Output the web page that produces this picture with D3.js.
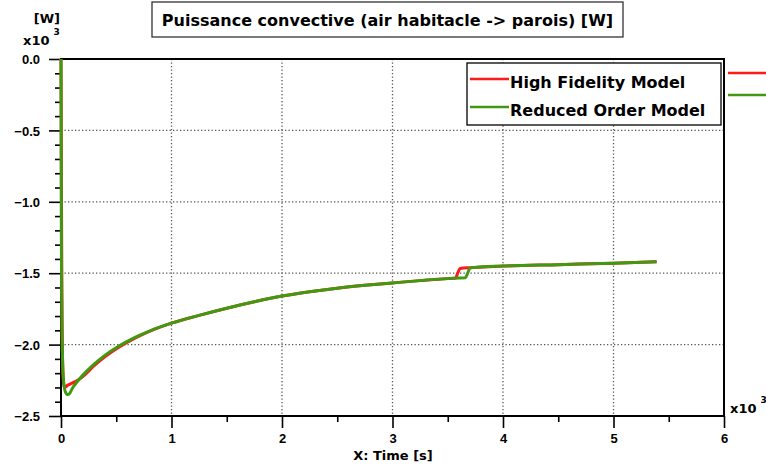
<!DOCTYPE html>
<html><head><meta charset="utf-8">
<script src="https://cdn.jsdelivr.net/npm/d3@7"></script>
<style>
html,body{margin:0;padding:0;background:#fff;}
svg{display:block;font-family:"DejaVu Sans",Verdana,sans-serif;font-weight:bold;}
</style></head>
<body><svg id="c" width="766" height="467"></svg>
<script>
const title = "Puissance convective (air habitacle -> parois) [W]";
const xLabel = "X: Time [s]";
const seriesNames = ["High Fidelity Model", "Reduced Order Model"];
const seriesColors = ["#ff1a1a", "#3f9a12"];
const xTicks = [0, 1, 2, 3, 4, 5, 6];
const yTicks = [0.0, -0.5, -1.0, -1.5, -2.0, -2.5];

// time in x10^3 s, power in x10^3 W
const hfmTime = [0, 0.002, 0.004, 0.007, 0.010, 0.014, 0.020, 0.028, 0.036, 0.045, 0.060, 0.10, 0.15, 0.20, 0.30, 0.40, 0.52, 0.67, 0.80, 1.0, 1.25, 1.5, 1.75, 2.0, 2.25, 2.5, 2.75, 3.0, 3.25, 3.5, 3.57, 3.59, 3.61, 3.64, 3.70, 4.0, 4.5, 5.0, 5.39];
const hfmPower = [0, -0.35, -0.9, -1.45, -1.85, -2.1, -2.24, -2.29, -2.30, -2.295, -2.285, -2.27, -2.25, -2.222, -2.148, -2.084, -2.02, -1.955, -1.908, -1.85, -1.795, -1.745, -1.70, -1.66, -1.63, -1.605, -1.585, -1.568, -1.552, -1.538, -1.534, -1.50, -1.468, -1.463, -1.461, -1.45, -1.44, -1.43, -1.42];
const romTime = [0, 0.001, 0.003, 0.006, 0.010, 0.016, 0.025, 0.035, 0.045, 0.055, 0.065, 0.08, 0.10, 0.15, 0.20, 0.30, 0.40, 0.52, 0.67, 0.80, 1.0, 1.25, 1.5, 1.75, 2.0, 2.25, 2.5, 2.75, 3.0, 3.25, 3.5, 3.6, 3.66, 3.68, 3.70, 3.72, 4.0, 4.5, 5.0, 5.39];
const romPower = [0, -0.5, -1.2, -1.65, -1.95, -2.15, -2.27, -2.32, -2.34, -2.35, -2.35, -2.34, -2.31, -2.257, -2.212, -2.137, -2.074, -2.012, -1.949, -1.905, -1.85, -1.795, -1.745, -1.70, -1.66, -1.63, -1.605, -1.585, -1.568, -1.552, -1.538, -1.534, -1.532, -1.50, -1.465, -1.461, -1.45, -1.44, -1.43, -1.42];

const svg = d3.select("#c");
const L = 61, T = 59, R = 724, B = 416;
const x = d3.scaleLinear().domain([0, 6]).range([L, R]);
const y = d3.scaleLinear().domain([-2.5, 0]).range([B, T]);

// grid
const grid = svg.append("g").attr("stroke", "#555").attr("stroke-width", 1.3).attr("stroke-dasharray", "1.3,2.2");
xTicks.slice(1, -1).forEach(t => grid.append("line").attr("x1", x(t)).attr("x2", x(t)).attr("y1", T).attr("y2", B));
yTicks.slice(1, -1).forEach(t => grid.append("line").attr("x1", L).attr("x2", R).attr("y1", y(t)).attr("y2", y(t)));

// axes
const xAxis = d3.axisBottom(x).tickValues(d3.range(0, 6.01, 0.5)).tickSize(6).tickFormat("");
const gx = svg.append("g").attr("transform", `translate(0,${B})`).call(xAxis);
gx.selectAll(".tick line").attr("stroke", "#000").attr("stroke-width", 1.6)
  .attr("y2", d => (Math.abs(d - Math.round(d)) < 1e-6 ? 12 : 6));
gx.select(".domain").remove();
gx.selectAll(".tick").append("text").text(d => (Math.abs(d - Math.round(d)) < 1e-6 ? d3.format("d")(d) : ""))
  .attr("y", 27).attr("fill", "#000").attr("font-size", 13).attr("text-anchor", "middle");

const yAxis = d3.axisLeft(y).tickValues(d3.range(0, 25.5, 1).map(i => -i / 10)).tickSize(6).tickFormat("");
const gy = svg.append("g").attr("transform", `translate(${L},0)`).call(yAxis);
gy.selectAll(".tick line").attr("stroke", "#000").attr("stroke-width", 1.6)
  .attr("x2", (d, i) => (i % 5 === 0 ? -12 : -6));
gy.select(".domain").remove();
gy.selectAll(".tick").append("text").text((d, i) => (i % 5 === 0 ? d3.format(".1f")(d) : ""))
  .attr("x", -21).attr("dy", "0.36em").attr("fill", "#000").attr("font-size", 13).attr("text-anchor", "end");

// frame
svg.append("rect").attr("x", L).attr("y", T).attr("width", R - L).attr("height", B - T)
  .attr("fill", "none").attr("stroke", "#000").attr("stroke-width", 2);

// curves
const line = d3.line().x(d => x(d[0])).y(d => y(d[1])).curve(d3.curveMonotoneX);
const hfm = hfmTime.map((t, i) => [t, hfmPower[i]]);
const rom = romTime.map((t, i) => [t, romPower[i]]);
svg.append("path").datum(hfm).attr("d", line).attr("fill", "none").attr("stroke", seriesColors[0]).attr("stroke-width", 3).attr("stroke-linejoin", "round");
svg.append("path").datum(rom).attr("d", line).attr("fill", "none").attr("stroke", seriesColors[1]).attr("stroke-width", 3).attr("stroke-linejoin", "round");

// legend inside
svg.append("rect").attr("x", 467).attr("y", 63).attr("width", 254).attr("height", 62)
  .attr("fill", "#fff").attr("stroke", "#000").attr("stroke-width", 1.3);
seriesNames.forEach((n, i) => {
  const ly = 79 + i * 28;
  svg.append("line").attr("x1", 470).attr("x2", 509).attr("y1", ly).attr("y2", ly)
    .attr("stroke", seriesColors[i]).attr("stroke-width", 2.4);
  svg.append("text").attr("x", 510).attr("y", ly + 9).attr("font-size", 16).text(n);
  svg.append("line").attr("x1", 728).attr("x2", 766).attr("y1", 73 + i * 22).attr("y2", 73 + i * 22)
    .attr("stroke", seriesColors[i]).attr("stroke-width", 2.4);
});

// title
svg.append("rect").attr("x", 152).attr("y", 2).attr("width", 471).attr("height", 35)
  .attr("fill", "#fff").attr("stroke", "#333").attr("stroke-width", 1.3);
svg.append("text").attr("x", 387.5).attr("y", 25.5).attr("text-anchor", "middle").attr("font-size", 16).text(title);

// unit labels
svg.append("text").attr("x", 60).attr("y", 23).attr("text-anchor", "end").attr("font-size", 13).text("[W]");
const yMul = svg.append("text").attr("x", 23).attr("y", 45).attr("font-size", 13);
yMul.append("tspan").text("x10");
yMul.append("tspan").attr("dx", 4).attr("dy", -10).attr("font-size", 9).text("3");
const xMul = svg.append("text").attr("x", 730).attr("y", 413).attr("font-size", 13);
xMul.append("tspan").text("x10");
xMul.append("tspan").attr("dx", 4).attr("dy", -10).attr("font-size", 9).text("3");

svg.append("text").attr("x", 393).attr("y", 460).attr("text-anchor", "middle").attr("font-size", 13).text(xLabel);
</script></body></html>
